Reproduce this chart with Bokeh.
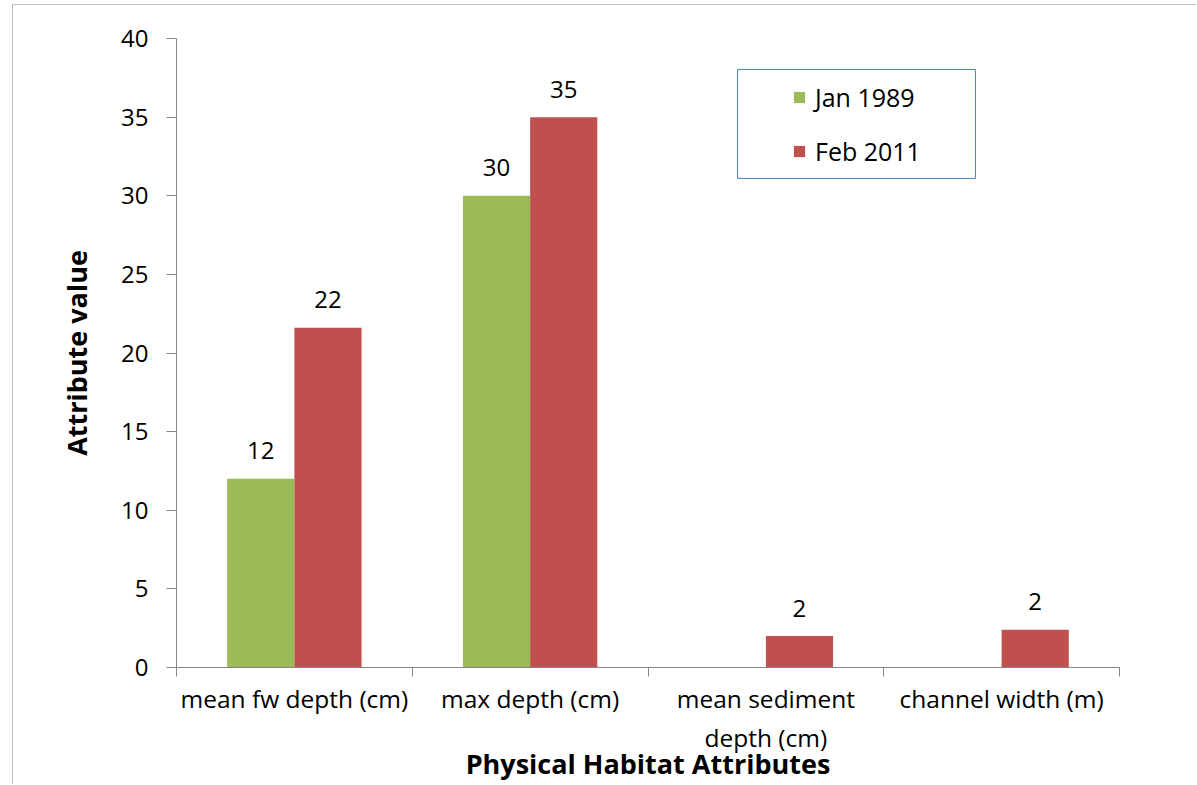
from bokeh.plotting import figure
from bokeh.models import (Range1d, FixedTicker, ColumnDataSource, Legend, LegendItem,
                          BoxAnnotation)
from bokeh.core.properties import value
from bokeh.embed import file_html
from bokeh.resources import INLINE
import numpy as np

# ---- data ----
categories = ["mean fw depth (cm)", "max depth (cm)", "mean sediment\ndepth (cm)", "channel width (m)"]
series_names = ["Jan 1989", "Feb 2011"]
jan_1989 = [12, 30, np.nan, np.nan]
feb_2011 = [21.6, 35, 2.0, 2.4]
jan_labels = ["12", "30", "", ""]
feb_labels = ["22", "35", "2", "2"]
y_ticks = [0, 5, 10, 15, 20, 25, 30, 35, 40]
x_title = "Physical Habitat Attributes"
y_title = "Attribute value"

GREEN = "#9BBB59"
RED = "#C0504D"
AXIS = "#868686"
FONT = "Open Sans"

n = len(categories)
centers = np.arange(n) + 0.5
bar_w = 0.285
off = 0.1425

p = figure(width=1184, height=780, output_backend="svg", toolbar_location=None,
           x_range=Range1d(0, n), y_range=Range1d(0, 40),
           min_border_left=163, min_border_right=78, min_border_top=33, min_border_bottom=118)
p.margin = (4, 0, 0, 12)
p.styles = {"border-left": "1px solid #BFBFBF", "border-top": "1px solid #BFBFBF"}
p.outline_line_color = None
p.xgrid.visible = False
p.ygrid.visible = False
p.background_fill_color = "white"
p.border_fill_color = "white"

src = ColumnDataSource(dict(x=centers, jan=jan_1989, feb=feb_2011,
                            jl=jan_labels, fl=feb_labels,
                            xj=centers - off, xf=centers + off))

r_jan = p.vbar(x="xj", top="jan", bottom=0, width=bar_w, source=src,
               fill_color=GREEN, line_color=None)
r_feb = p.vbar(x="xf", top="feb", bottom=0, width=bar_w, source=src,
               fill_color=RED, line_color=None)

for xcol, ycol, tcol in (("xj", "jan", "jl"), ("xf", "feb", "fl")):
    p.text(x=xcol, y=ycol, text=tcol, source=src, text_align="center",
           text_baseline="alphabetic", y_offset=-28,
           text_font=value(FONT), text_font_size="24px", text_color="#000000")

# y axis
yax = p.yaxis[0]
yax.ticker = FixedTicker(ticks=y_ticks)
yax.axis_line_color = AXIS
yax.major_tick_line_color = AXIS
yax.major_tick_in = 0
yax.major_tick_out = 10
yax.minor_tick_line_color = None
yax.major_label_standoff = 18
yax.major_label_text_font = FONT
yax.major_label_text_font_size = "24px"
yax.major_label_text_color = "#000000"
yax.axis_label = y_title
yax.axis_label_text_font = FONT
yax.axis_label_text_font_style = "bold"
yax.axis_label_text_font_size = "27px"
yax.axis_label_text_color = "#000000"
yax.axis_label_standoff = 23

# x axis
xax = p.xaxis[0]
xax.ticker = FixedTicker(ticks=list(centers), minor_ticks=list(np.arange(n + 1)))
xax.major_label_overrides = {float(c): lab for c, lab in zip(centers, categories)}
xax.axis_line_color = AXIS
xax.major_tick_line_color = None
xax.major_tick_in = 0
xax.major_tick_out = 0
xax.minor_tick_line_color = AXIS
xax.minor_tick_in = 0
xax.minor_tick_out = 9
xax.major_label_standoff = 5
xax.major_label_text_font = FONT
xax.major_label_text_font_size = "24.5px"
xax.major_label_text_color = "#000000"
xax.axis_label = x_title
xax.axis_label_text_font = FONT
xax.axis_label_text_font_style = "bold"
xax.axis_label_text_font_size = "27px"
xax.axis_label_text_color = "#000000"
xax.axis_label_standoff = -12

# legend frame
p.add_layout(BoxAnnotation(left=2.38, right=3.389, bottom=31.1, top=38.03,
                           fill_color="white", fill_alpha=1.0,
                           line_color="#4F81BD", line_alpha=1.0, line_width=1,
                           level="underlay"))

legend = Legend(items=[LegendItem(label=series_names[0], renderers=[r_jan]),
                       LegendItem(label=series_names[1], renderers=[r_feb])],
                location=(616, 499), orientation="vertical",
                border_line_color=None, background_fill_alpha=0,
                padding=0, margin=0, spacing=20,
                glyph_width=14, glyph_height=14, label_height=34, label_standoff=9,
                label_text_font=FONT, label_text_font_size="25px", label_text_color="#000000")
p.add_layout(legend)

open("out.html", "w").write(file_html(p, INLINE))
